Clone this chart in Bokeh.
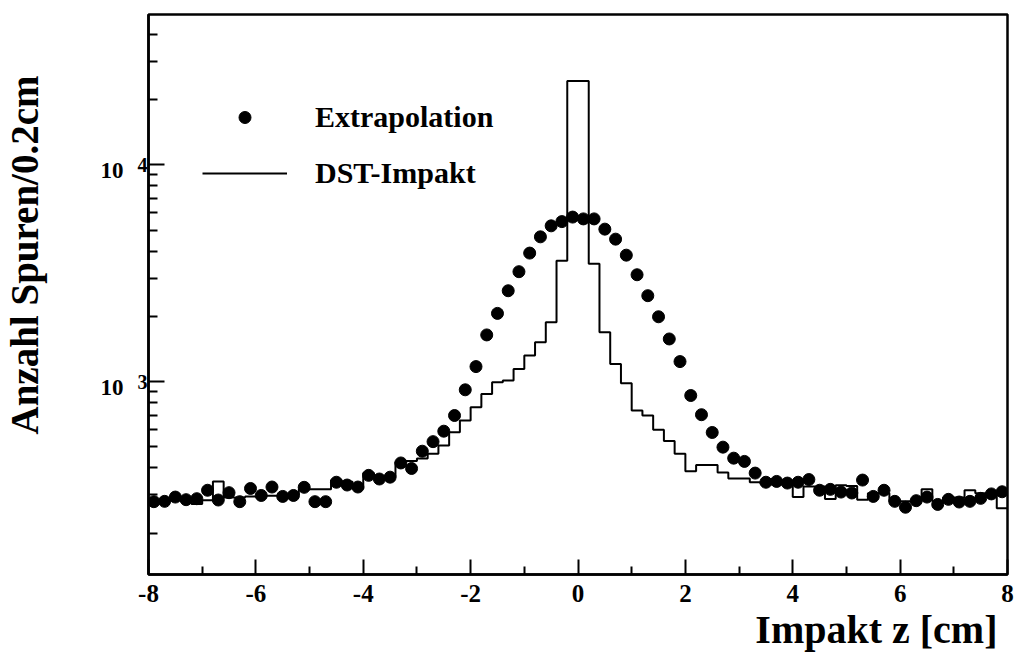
import numpy as np
from bokeh.plotting import figure
from bokeh.models import Legend, LegendItem, FixedTicker, Range1d, LogAxis, Title
from bokeh.embed import file_html
from bokeh.resources import INLINE

# ---------------- data ----------------
z_edges = np.round(np.arange(-8.0, 8.0001, 0.2), 1)          # histogram bin edges (0.2 cm)
z_centers = np.round((z_edges[:-1] + z_edges[1:]) / 2, 2)      # bin centres

extrapolation = [
    279, 280, 293, 285, 288, 315, 284, 307, 279, 321,
    298, 326, 295, 298, 325, 279, 279, 343, 333, 326,
    369, 355, 362, 421, 397, 477, 528, 590, 697, 916,
    1172, 1641, 2063, 2624, 3213, 3915, 4653, 5230, 5470, 5740,
    5630, 5630, 5050, 4540, 3830, 3110, 2490, 1990, 1572, 1236,
    862, 703, 582, 498, 443, 428, 378, 343, 346, 340,
    343, 353, 315, 318, 309, 306, 351, 295, 315, 280,
    263, 282, 293, 271, 286, 278, 280, 289, 303, 310,
]

dst_impakt = [
    280, 280, 285, 280, 272, 283, 346, 292, 292, 295,
    295, 297, 298, 300, 318, 318, 318, 350, 345, 320,
    378, 360, 365, 425, 430, 442, 464, 507, 584, 661,
    761, 877, 993, 1011, 1144, 1318, 1517, 1876, 3610, 24400,
    24400, 3496, 1687, 1206, 982, 735, 697, 599, 531, 464,
    386, 412, 412, 380, 357, 357, 343, 338, 335, 335,
    293, 328, 328, 287, 332, 330, 285, 305, 305, 280,
    280, 280, 318, 280, 292, 292, 315, 305, 305, 260,
]

x_ticks = [-8, -6, -4, -2, 0, 2, 4, 6, 8]
x_tick_labels = ["-8", "-6", "-4", "-2", "0", "2", "4", "6", "8"]
x_minor = [-7, -5, -3, -1, 1, 3, 5, 7]
y_ticks = [1000, 10000]
y_tick_base = ["10", "10"]
y_tick_exp = ["3", "4"]
y_minor = [200, 300, 400, 500, 600, 700, 800, 900,
           2000, 3000, 4000, 5000, 6000, 7000, 8000, 9000,
           20000, 30000, 40000]

FONT = "Liberation Serif"

# ---------------- figure ----------------
p = figure(width=1015, height=655, y_axis_type="log",
           x_range=Range1d(-8, 8), y_range=Range1d(128.7, 49400),
           output_backend="svg", toolbar_location=None,
           min_border_left=148, min_border_right=8,
           min_border_top=14, min_border_bottom=81)
p.background_fill_color = "white"
p.border_fill_color = "white"
p.grid.visible = False
p.outline_line_color = "black"
p.outline_line_width = 2.5

# histogram as a step outline
step_y = list(dst_impakt) + [dst_impakt[-1]]
r_line = p.step(x=list(z_edges), y=step_y, mode="after",
                line_color="black", line_width=2)
r_pts = p.scatter(x=list(z_centers), y=extrapolation, size=12,
                  fill_color="black", line_color="black")

# x axis
p.xaxis.ticker = FixedTicker(ticks=x_ticks, minor_ticks=x_minor)
p.xaxis.major_label_overrides = {t: l for t, l in zip(x_ticks, x_tick_labels)}
p.xaxis.major_label_text_font = FONT
p.xaxis.major_label_text_font_style = "bold"
p.xaxis.major_label_text_font_size = "25px"
p.xaxis.major_label_text_color = "black"
p.xaxis.major_label_standoff = 10
p.xaxis.major_tick_in = 15
p.xaxis.major_tick_out = 0
p.xaxis.minor_tick_in = 8
p.xaxis.minor_tick_out = 0

# inner y axis: ticks + exponents
ya = p.yaxis[0]
ya.ticker = FixedTicker(ticks=y_ticks, minor_ticks=y_minor)
ya.major_label_overrides = {t: e for t, e in zip(y_ticks, y_tick_exp)}
ya.major_label_text_font = FONT
ya.major_label_text_font_style = "bold"
ya.major_label_text_font_size = "20px"
ya.major_label_text_color = "black"
ya.major_label_standoff = 1
ya.major_tick_in = 16
ya.major_tick_out = 0
ya.minor_tick_in = 9
ya.minor_tick_out = 0

for ax in (p.xaxis[0], ya):
    ax.axis_line_width = 2.5
    ax.axis_line_color = "black"
    ax.major_tick_line_width = 2
    ax.minor_tick_line_width = 2
    ax.major_tick_line_color = "black"
    ax.minor_tick_line_color = "black"

# outer y axis: the "10" bases (lowered with an empty first line)
yb = LogAxis(ticker=FixedTicker(ticks=y_ticks, minor_ticks=[]),
             major_label_overrides={t: " \n" + b for t, b in zip(y_ticks, y_tick_base)},
             major_label_text_font=FONT, major_label_text_font_style="bold",
             major_label_text_font_size="23px", major_label_text_line_height=0.45,
             major_label_text_color="black", major_label_standoff=11,
             axis_line_color=None, major_tick_line_color=None,
             minor_tick_line_color=None, major_tick_in=0, major_tick_out=0,
             minor_tick_in=0, minor_tick_out=0)
p.add_layout(yb, "left")

# axis titles (empty second line of the y title keeps it away from the axis)
p.add_layout(Title(text="Anzahl Spuren/0.2cm\n ", align="right", offset=61,
                   standoff=0, text_font=FONT, text_font_style="bold",
                   text_font_size="39px", text_line_height=1.2,
                   text_color="black"), "left")
p.add_layout(Title(text="Impakt z [cm]", align="right", offset=10, standoff=0,
                   text_font=FONT, text_font_style="bold",
                   text_font_size="40px", text_color="black"), "below")

# legend
legend = Legend(items=[LegendItem(label="Extrapolation", renderers=[r_pts]),
                       LegendItem(label="DST-Impakt", renderers=[r_line])],
                location=(54, 384), glyph_width=85, glyph_height=30,
                label_height=30, spacing=22, label_standoff=28,
                padding=0, margin=0, border_line_color=None,
                background_fill_alpha=0,
                label_text_font=FONT, label_text_font_style="bold",
                label_text_font_size="30px", label_text_color="black")
p.add_layout(legend)

open("out.html", "w").write(file_html(p, INLINE))
